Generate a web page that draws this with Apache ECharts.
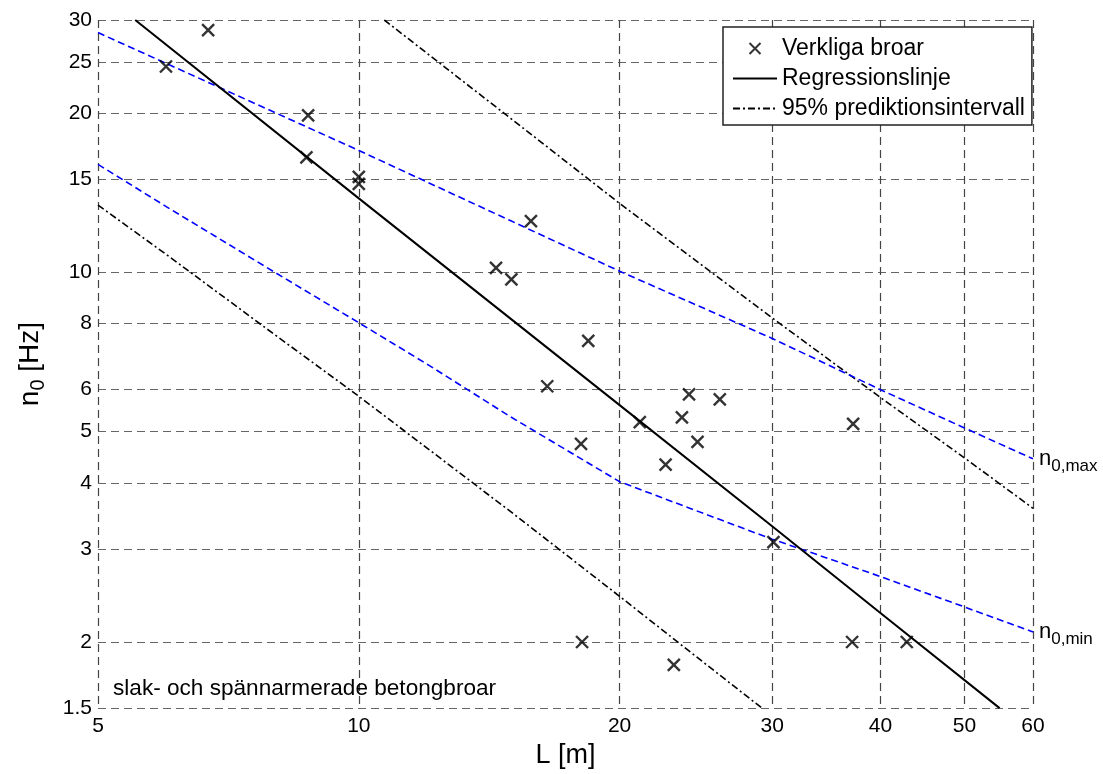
<!DOCTYPE html>
<html>
<head>
<meta charset="utf-8">
<script src="https://cdn.jsdelivr.net/npm/echarts@6/dist/echarts.min.js"></script>
<style>
  html, body { margin: 0; padding: 0; background: #fff; }
  #chart { width: 1103px; height: 774px; }
</style>
</head>
<body>
<div id="chart"></div>
<script>
// axis ticks
const xTicks = [5, 10, 20, 30, 40, 50, 60]
const yTicks = [1.5, 2, 3, 4, 5, 6, 8, 10, 15, 20, 25, 30]

// measured bridges (L [m], n0 [Hz])
const bridgeL = [5.99, 6.70, 8.74, 8.70, 10.0, 10.0, 15.8, 14.4, 15.0, 18.4, 16.5, 24.05,
  26.1, 23.6, 21.1, 24.6, 18.05, 22.6, 37.2, 30.1, 37.1, 42.9, 18.1, 23.1]
const bridgeN = [24.5, 28.7, 19.8, 16.5, 15.15, 14.7, 12.5, 10.2, 9.7, 7.42, 6.09, 5.88,
  5.75, 5.32, 5.21, 4.78, 4.74, 4.33, 5.17, 3.09, 2.0, 2.0, 2.0, 1.81]

// regression line
const regL = [5.52, 10, 20, 30, 40, 54.9]
const regN = [30, 13.8, 5.61, 3.31, 2.27, 1.5]

// 95% prediction interval
const piUpL = [10.7, 15, 20, 30, 40, 50, 60]
const piUpN = [30, 19.5, 13.5, 8.2, 5.8, 4.46, 3.58]
const piLoL = [5, 6, 8, 10, 15, 20, 25, 29.2]
const piLoN = [13.4, 10.8, 7.62, 5.83, 3.52, 2.44, 1.83, 1.5]

// n0,max / n0,min limits
const maxL = [5, 10, 15, 20, 30, 40, 50, 60]
const maxN = [28.4, 17.0, 12.5, 10.05, 7.5, 6.0, 5.08, 4.44]
const minL = [5, 6, 8, 10, 12, 15, 20, 25, 30, 40, 50, 60]
const minN = [16.0, 13.3, 10.0, 8.03, 6.70, 5.32, 4.02, 3.50, 3.13, 2.66, 2.33, 2.09]

const pairs = (xs, ys) => xs.map((x, i) => [x, ys[i]])
const font = "'Liberation Sans', Arial, sans-serif"
const dashDot = [7, 3, 2, 3]

const chart = echarts.init(document.getElementById('chart'))

const endLabel = (sub) => ({
  show: true,
  distance: 6,
  formatter: '{a|n}{b|' + sub + '}',
  rich: {
    a: { fontSize: 22, fontFamily: font, color: '#000', lineHeight: 22 },
    b: { fontSize: 17, fontFamily: font, color: '#000', padding: [15, 0, 0, 0] }
  }
})

const option = {
  animation: false,
  textStyle: { fontFamily: font },
  grid: { left: 98, right: 70, top: 20, bottom: 61 },
  title: {
    text: 'slak- och spännarmerade betongbroar',
    left: 108,
    top: 672,
    textStyle: { fontSize: 22.6, fontWeight: 'normal', fontFamily: font, color: '#000' }
  },
  legend: {
    left: 723,
    top: 27,
    orient: 'vertical',
    padding: [10, 7, 5, 9],
    itemGap: 7,
    itemWidth: 44,
    itemHeight: 11,
    borderColor: '#222',
    borderWidth: 1.5,
    backgroundColor: '#fff',
    textStyle: { fontSize: 23, fontFamily: font, color: '#000', lineHeight: 22 },
    data: [
      'Verkliga broar',
      { name: 'Regressionslinje', itemStyle: { opacity: 0 } },
      { name: '95% prediktionsintervall', itemStyle: { opacity: 0 } }
    ]
  },
  xAxis: {
    type: 'log',
    logBase: 10,
    min: 5,
    max: 60,
    name: 'L [m]',
    nameLocation: 'middle',
    nameGap: 29,
    nameTextStyle: { fontSize: 27, fontFamily: font, color: '#000' },
    axisLine: { show: false },
    axisTick: { show: false, customValues: xTicks },
    axisLabel: {
      customValues: xTicks,
      fontSize: 21,
      color: '#000',
      margin: 8,
      formatter: (v) => String(v)
    },
    splitLine: { show: true, lineStyle: { type: [8, 5], color: '#444', width: 1.2 } }
  },
  yAxis: {
    type: 'log',
    logBase: 10,
    min: 1.5,
    max: 30,
    name: '{a|n}{b|0}{a| [Hz]}',
    nameLocation: 'middle',
    nameGap: 50,
    nameTextStyle: {
      rich: {
        a: { fontSize: 28, fontFamily: font, color: '#000' },
        b: { fontSize: 20, fontFamily: font, color: '#000', padding: [15, 0, 0, 0] }
      }
    },
    axisLine: { show: false },
    axisTick: { show: false, customValues: yTicks },
    axisLabel: {
      customValues: yTicks,
      fontSize: 21,
      color: '#000',
      margin: 6,
      formatter: (v) => String(v)
    },
    splitLine: { show: true, lineStyle: { type: [8, 5], color: '#666', width: 1.2 } }
  },
  series: [
    {
      name: 'Verkliga broar',
      type: 'scatter',
      data: pairs(bridgeL, bridgeN),
      symbol: 'path://M0,0L10,10M10,0L0,10',
      symbolSize: 12,
      itemStyle: { color: 'none', borderColor: '#000', borderWidth: 2.4 },
      z: 5
    },
    {
      name: 'Regressionslinje',
      type: 'line',
      data: pairs(regL, regN),
      symbol: 'none',
      lineStyle: { color: '#000', width: 2 },
      itemStyle: { color: '#000' },
      z: 4
    },
    {
      name: '95% prediktionsintervall',
      type: 'line',
      data: pairs(piUpL, piUpN),
      symbol: 'none',
      lineStyle: { color: '#000', width: 1.6, type: dashDot },
      itemStyle: { color: '#000' },
      z: 3
    },
    {
      name: '95% prediktionsintervall',
      type: 'line',
      data: pairs(piLoL, piLoN),
      symbol: 'none',
      lineStyle: { color: '#000', width: 1.6, type: dashDot },
      itemStyle: { color: '#000' },
      z: 3
    },
    {
      name: 'n0,max',
      type: 'line',
      data: pairs(maxL, maxN),
      symbol: 'none',
      lineStyle: { color: '#0000ff', width: 1.6, type: [7, 4] },
      itemStyle: { color: '#0000ff' },
      endLabel: endLabel('0,max'),
      z: 3
    },
    {
      name: 'n0,min',
      type: 'line',
      data: pairs(minL, minN),
      symbol: 'none',
      lineStyle: { color: '#0000ff', width: 1.6, type: [7, 4] },
      itemStyle: { color: '#0000ff' },
      endLabel: endLabel('0,min'),
      z: 3
    }
  ]
}

chart.setOption(option)
</script>
</body>
</html>
